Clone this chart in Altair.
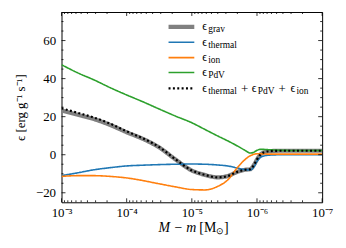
import altair as alt
import pandas as pd

# M - m  [M_sun]
mass = [1.0e-3, 5.62e-4, 3.16e-4, 1.78e-4, 1.0e-4, 5.62e-5, 3.16e-5, 1.78e-5,
        1.0e-5, 6.31e-6, 3.98e-6, 2.82e-6, 2.0e-6, 1.58e-6, 1.26e-6, 1.12e-6,
        1.0e-6, 8.9e-7, 7.9e-7, 6.3e-7, 4.0e-7, 2.0e-7, 1.0e-7]

eps_grav = [23.3, 21.0, 18.7, 15.6, 11.8, 8.3, 3.8, -2.5,
            -8.3, -10.6, -11.9, -11.2, -9.0, -8.0, -7.6, -5.5,
            -2.5, 0.0, 1.2, 1.9, 2.1, 2.1, 2.1]
eps_thermal = [-11.0, -9.5, -7.9, -6.8, -5.9, -5.5, -5.2, -5.0,
               -4.9, -5.0, -5.4, -5.9, -7.0, -7.8, -8.0, -6.5,
               -3.5, -1.5, -0.7, -0.2, 0.0, 0.0, 0.0]
eps_ion = [-11.4, -11.0, -11.0, -11.4, -12.2, -13.6, -15.3, -16.9,
           -18.3, -18.5, -16.6, -13.3, -6.8, -3.0, -0.5, 0.2,
           0.5, 0.5, 0.4, 0.3, 0.3, 0.3, 0.3]
eps_pdv = [47.3, 43.0, 39.3, 35.2, 31.4, 27.8, 24.0, 20.3,
           16.8, 13.3, 9.8, 7.3, 4.6, 2.6, 0.9, 1.3,
           2.3, 2.8, 2.8, 2.6, 2.3, 2.2, 2.2]
eps_sum = [24.4, 22.0, 19.5, 16.3, 12.3, 8.6, 4.0, -2.4,
           -8.3, -10.6, -11.9, -11.2, -9.0, -8.0, -7.6, -5.5,
           -2.5, 0.0, 1.2, 1.9, 2.1, 2.1, 2.1]

names = ["grav", "thermal", "ion", "PdV", "sum"]
series = [eps_grav, eps_thermal, eps_ion, eps_pdv, eps_sum]
colors = ["#808080", "#1f77b4", "#ff7f0e", "#2ca02c", "#000000"]
widths = [4.2, 1.6, 1.6, 1.6, 2.2]
dashes = [[1, 0], [1, 0], [1, 0], [1, 0], [2, 2.4]]

# legend label pieces: (text, kind)  kind: "e" = epsilon, "s" = subscript, "p" = plus
legend_labels = [
    [("ϵ", "e"), ("grav", "s")],
    [("ϵ", "e"), ("thermal", "s")],
    [("ϵ", "e"), ("ion", "s")],
    [("ϵ", "e"), ("PdV", "s")],
    [("ϵ", "e"), ("thermal", "s"), ("+", "p"), ("ϵ", "e"), ("PdV", "s"),
     ("+", "p"), ("ϵ", "e"), ("ion", "s")],
]

x_ticks = [1e-3, 1e-4, 1e-5, 1e-6, 1e-7]
y_ticks = [-20, 0, 20, 40, 60]

rows = []
for name, vals in zip(names, series):
    for m, v in zip(mass, vals):
        rows.append({"mass": m, "eps": v, "series": name})
df = pd.DataFrame(rows)

W, H = 263, 192
FONT = "Liberation Serif"

x_scale = alt.Scale(type="log", domain=[1e-7, 1e-3], reverse=True)
y_scale = alt.Scale(domain=[-25, 75], nice=False, zero=False)

sup = "['⁰','¹','²','³','⁴','⁵','⁶','⁷','⁸','⁹'][round(-log(datum.value)/LN10)]"

x_axis = alt.Axis(
    values=x_ticks, labelExpr="'10⁻' + " + sup, ticks=False, domain=False,
    grid=False, title=None, labelFont=FONT, labelFontSize=13,
    labelColor="black", labelPadding=4, labelFlush=False, labelBound=False)
y_axis = alt.Axis(
    values=y_ticks, ticks=False, domain=False, grid=False,
    title="ϵ [erg g⁻¹ s⁻¹]", labelFont=FONT, labelFontSize=13,
    titleFont=FONT, titleFontSize=13, titleFontWeight="normal",
    labelColor="black", titleColor="black", labelPadding=6, titlePadding=8)

color = alt.Color("series:N", scale=alt.Scale(domain=names, range=colors), legend=None)
sw = alt.StrokeWidth("series:N", scale=alt.Scale(type="ordinal", domain=names, range=widths), legend=None)
sd = alt.StrokeDash("series:N", scale=alt.Scale(type="ordinal", domain=names, range=dashes), legend=None)

layers = []
for name in names:
    layers.append(
        alt.Chart(df).transform_filter(alt.datum.series == name)
        .mark_line(interpolate="monotone", clip=True)
        .encode(x=alt.X("mass:Q", scale=x_scale, axis=x_axis),
                y=alt.Y("eps:Q", scale=y_scale, axis=y_axis),
                color=color, strokeWidth=sw, strokeDash=sd)
    )

# inward tick marks on all four sides
y_minor = [v for v in range(-20, 75, 5) if v % 20 != 0]
x_minor = [k * 10.0 ** e for e in range(-7, -3) for k in range(2, 10)]


def yticks(vals, length):
    d = pd.DataFrame({"mass": [1e-5] * len(vals), "eps": vals})
    out = []
    for x0, x1 in [(0, length), (W, W - length)]:
        out.append(alt.Chart(d).mark_rule(color="black", strokeWidth=0.8).encode(
            y=alt.Y("eps:Q", scale=y_scale, axis=y_axis),
            x=alt.value(x0), x2=alt.value(x1)))
    return out


def xticks(vals, length):
    d = pd.DataFrame({"mass": vals, "eps": [0] * len(vals)})
    out = []
    for y0, y1 in [(H, H - length), (0, length)]:
        out.append(alt.Chart(d).mark_rule(color="black", strokeWidth=0.8).encode(
            x=alt.X("mass:Q", scale=x_scale, axis=x_axis),
            y=alt.value(y0), y2=alt.value(y1)))
    return out


tick_layers = (yticks(y_ticks, 4) + yticks(y_minor, 2)
               + xticks(x_ticks, 4) + xticks(x_minor, 2))

# ---- hand-drawn legend (matplotlib style, with subscripts) ----
one = pd.DataFrame({"k": [0]})
LEG_X0, LEG_X1, TXT_X = 108, 134, 142
ROW_Y = [15, 30.5, 46, 61, 77]
PIECE_DX = [0, 6, 39, 50, 56, 77, 89, 95]   # horizontal layout of label pieces
STYLE = {"e": (12, 3.5), "s": (9.5, 5.5), "p": (13, 4.5)}
legend_layers = []
for i in range(len(names)):
    legend_layers.append(
        alt.Chart(one).mark_rule(color=colors[i], strokeWidth=widths[i],
                                 strokeDash=dashes[i]).encode(
            x=alt.value(LEG_X0), x2=alt.value(LEG_X1), y=alt.value(ROW_Y[i])))
    for j, (text, kind) in enumerate(legend_labels[i]):
        fs, dy = STYLE[kind]
        legend_layers.append(
            alt.Chart(one).mark_text(text=text, font=FONT, fontSize=fs, align="left",
                                     baseline="alphabetic", color="black").encode(
                x=alt.value(TXT_X + PIECE_DX[j]), y=alt.value(ROW_Y[i] + dy)))

# ---- x title: italic "M − m" and upright "[M⊙]" ----
TY = H + 30
title_layers = [
    alt.Chart(one).mark_text(text="M − m", font=FONT, fontSize=14, fontStyle="italic",
                             align="right", baseline="alphabetic", color="black").encode(
        x=alt.value(136), y=alt.value(TY)),
    alt.Chart(one).mark_text(text="[M", font=FONT, fontSize=14, align="left",
                             baseline="alphabetic", color="black").encode(
        x=alt.value(139), y=alt.value(TY)),
    alt.Chart(one).mark_text(text="⊙", font=FONT, fontSize=9, align="left",
                             baseline="alphabetic", color="black").encode(
        x=alt.value(156), y=alt.value(TY + 2.5)),
    alt.Chart(one).mark_text(text="]", font=FONT, fontSize=14, align="left",
                             baseline="alphabetic", color="black").encode(
        x=alt.value(164), y=alt.value(TY)),
]

chart = alt.layer(*layers, *tick_layers, *legend_layers, *title_layers).properties(
    width=W, height=H, padding={"left": 6, "top": 2, "right": 5, "bottom": 2}
).configure(font=FONT).configure_view(stroke="black", strokeWidth=1)

chart.save("out.html", embed_options={"renderer": "svg", "actions": False})
